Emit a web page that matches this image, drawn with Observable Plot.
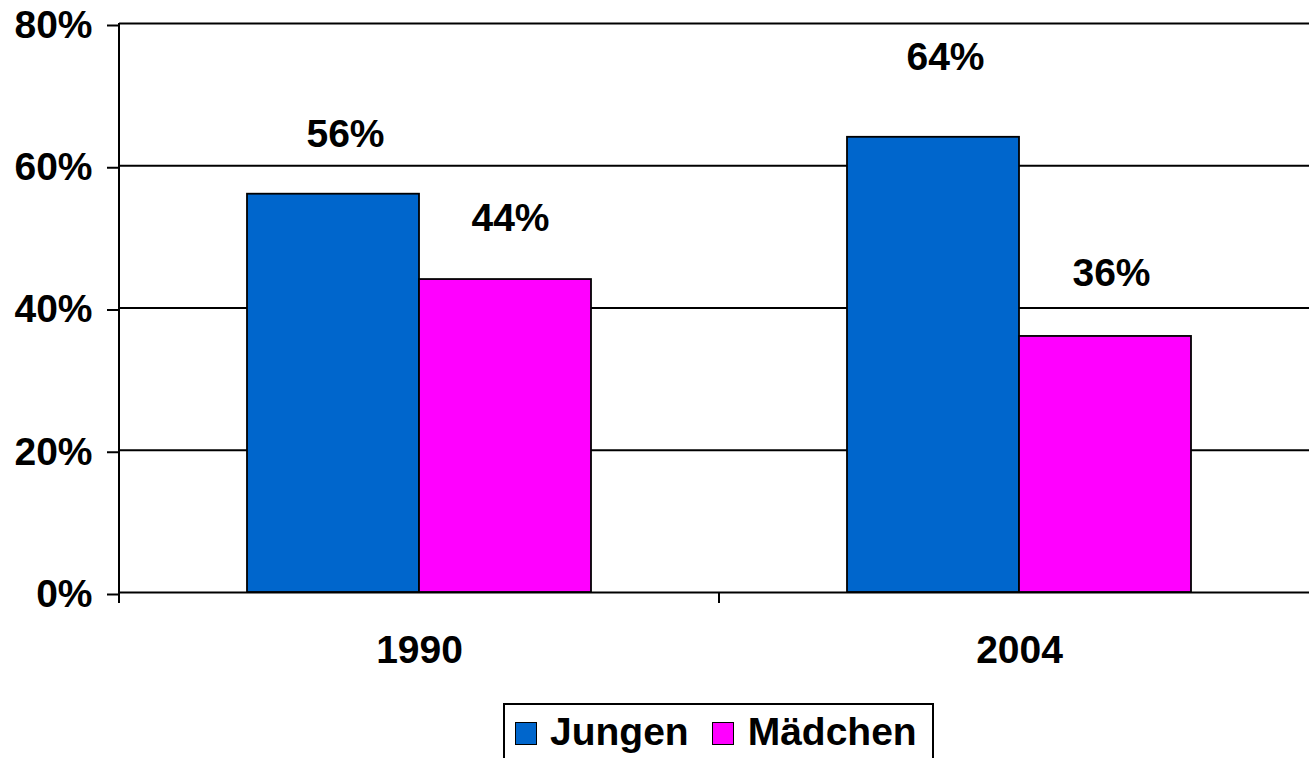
<!DOCTYPE html>
<html>
<head>
<meta charset="utf-8">
<script src="https://cdn.jsdelivr.net/npm/d3@7"></script>
<script src="https://cdn.jsdelivr.net/npm/@observablehq/plot@0.6"></script>
<style>
  html, body { margin: 0; padding: 0; background: #fff; overflow: hidden; width: 1309px; height: 758px; }
  #chart { position: absolute; left: 0; top: 0; width: 1319px; }
  #chart svg { max-width: none !important; width: 1319px !important; height: 700px !important; }
  .legend { position: absolute; left: 503px; top: 703px; width: 431px; height: 70px; border: 2px solid #000; box-sizing: border-box;
    display: flex; align-items: flex-start; padding: 7px 0 0 10px; font-family: "Liberation Sans", Arial, sans-serif; font-weight: bold; font-size: 39px; line-height: 39px; color: #000; }
  .legend .sw { width: 22px; height: 23px; border: 1.5px solid #000; box-sizing: border-box; margin-top: 10px; flex: none; }
  .legend .lab { flex: none; }
</style>
</head>
<body>
<div id="chart"></div>
<div class="legend" id="legend"></div>
<script>
const years = ["1990", "2004"];
const series = ["Jungen", "Mädchen"];
const jungen = [0.56, 0.64];
const maedchen = [0.44, 0.36];
const yTicks = [0, 0.2, 0.4, 0.6, 0.8];
const colors = ["#0066CC", "#FF00FF"];

const data = [];
years.forEach((yr, i) => {
  data.push({year: yr, series: series[0], value: jungen[i]});
  data.push({year: yr, series: series[1], value: maedchen[i]});
});
const pct = d3.format(".0%");

// label placement (style), per year/series as in the original
const labelMarks = [
  {year: "1990", series: "Jungen", dx: 12, dy: -60},
  {year: "1990", series: "Mädchen", dx: 5, dy: -61},
  {year: "2004", series: "Jungen", dx: 12, dy: -80},
  {year: "2004", series: "Mädchen", dx: 6, dy: -63}
].map(o => Plot.text(data.filter(d => d.year === o.year && d.series === o.series),
  {fx: "year", x: "series", y: "value", text: d => pct(d.value), dx: o.dx, dy: o.dy}));

const plot = Plot.plot({
  width: 1319,
  height: 700,
  marginTop: 23,
  marginBottom: 108,
  marginLeft: 119,
  marginRight: 0,
  style: {fontFamily: '"Liberation Sans", Arial, sans-serif', fontSize: "39px", fontWeight: "bold", color: "#000", background: "#fff"},
  fx: {domain: years, padding: 0},
  x: {domain: series, paddingInner: 0, paddingOuter: 0.744, axis: null},
  y: {domain: [0, 0.8]},
  color: {domain: series, range: colors},
  marks: [
    Plot.gridY(yTicks, {stroke: "#000", strokeOpacity: 1, strokeWidth: 2}),
    Plot.axisY({ticks: yTicks, tickFormat: pct, tickSize: 12, tickPadding: 15, strokeWidth: 2, label: null, dy: 2}),
    Plot.axisFx({anchor: "bottom", tickSize: 0, tickPadding: 43, label: null}),
    Plot.barY(data, {fx: "year", x: "series", y: "value", fill: "series", stroke: "#000", strokeWidth: 1.8}),
    ...labelMarks
  ]
});

// axis line and category-boundary ticks from the library's scales
const fxS = plot.scale("fx"), yS = plot.scale("y");
const svg = d3.select(plot);
const g = svg.append("g").attr("stroke", "#000").attr("stroke-width", 2);
const y0 = yS.apply(0), yTop = yS.apply(yS.domain[1]);
g.append("line").attr("x1", fxS.apply(years[0])).attr("x2", fxS.apply(years[0])).attr("y1", yTop).attr("y2", y0 + 11);
years.forEach(yr => {
  const xx = fxS.apply(yr);
  g.append("line").attr("x1", xx).attr("x2", xx).attr("y1", y0).attr("y2", y0 + 11);
});

document.getElementById("chart").appendChild(plot);

// legend
const leg = document.getElementById("legend");
const gaps = [[0, 13], [23, 14]];
series.forEach((s, i) => {
  const sw = document.createElement("div");
  sw.className = "sw";
  sw.style.background = colors[i];
  sw.style.marginLeft = gaps[i][0] + "px";
  const lab = document.createElement("div");
  lab.className = "lab";
  lab.style.marginLeft = gaps[i][1] + "px";
  lab.textContent = s;
  leg.appendChild(sw);
  leg.appendChild(lab);
});
</script>
</body>
</html>
